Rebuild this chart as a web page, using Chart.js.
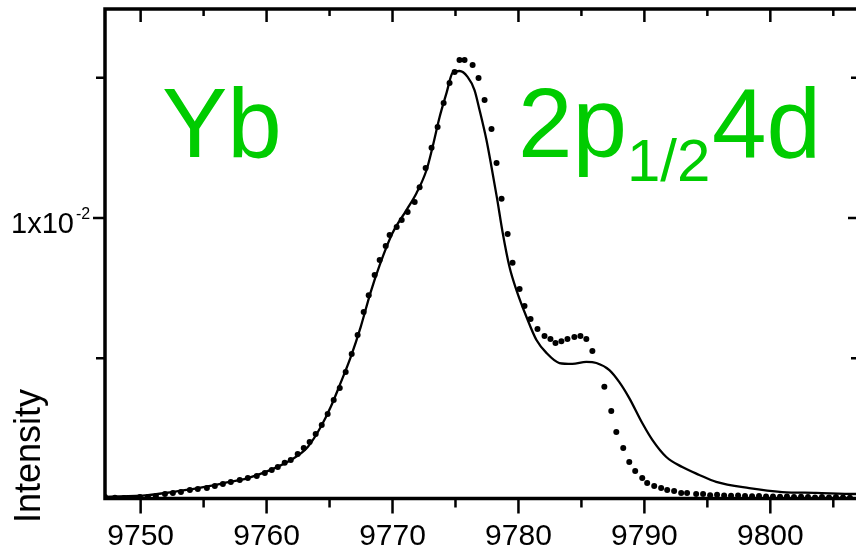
<!DOCTYPE html>
<html>
<head>
<meta charset="utf-8">
<script src="https://cdn.jsdelivr.net/npm/chart.js@4.4.1/dist/chart.umd.min.js"></script>
<style>
    html, body { margin: 0; padding: 0; background: #fff; overflow: hidden; }
    #wrap { width: 856px; height: 554px; overflow: hidden; position: relative; }
    canvas { display: block; }
</style>
</head>
<body>
<div id="wrap"><canvas id="spec" width="864" height="554"></canvas></div>
<script>
// intensities are given in units of 1e-2
const UNIT = 1e-2;

// calculated profile (solid line)
const fitX = [9747.15, 9750.58, 9752.5, 9754.54, 9756.5, 9758.51, 9760.33, 9761.92, 9763.27, 9764.30,
    9765.09, 9765.88, 9766.68, 9767.47, 9768.26, 9768.98, 9770.01, 9771.12, 9771.91, 9772.70,
    9773.18, 9773.74, 9774.29, 9774.77, 9775.32, 9775.96, 9776.51, 9776.91, 9777.46, 9777.86,
    9778.30, 9778.73, 9779.29, 9779.84, 9780.64, 9781.43, 9782.22, 9783.25, 9784.28, 9785.39,
    9786.19, 9787.22, 9788.01, 9788.80, 9789.83, 9790.63, 9791.74, 9793.01, 9794.36, 9795.70,
    9798.32, 9800.94, 9803.63, 9806.73, 9807.12];
const fitY = [0.006, 0.012, 0.023, 0.037, 0.054, 0.073, 0.102, 0.137, 0.184, 0.255,
    0.326, 0.412, 0.504, 0.611, 0.735, 0.832, 0.947, 1.029, 1.089, 1.171,
    1.253, 1.360, 1.446, 1.517, 1.524, 1.503, 1.456, 1.385, 1.278, 1.182,
    1.070, 0.952, 0.825, 0.743, 0.647, 0.565, 0.519, 0.483, 0.480, 0.487,
    0.483, 0.458, 0.415, 0.358, 0.269, 0.209, 0.148, 0.112, 0.084, 0.059,
    0.037, 0.023, 0.020, 0.016, 0.016];

// measured points (dots)
const expX = [9747.17, 9747.96, 9748.68, 9749.23, 9749.94, 9750.58, 9751.21, 9751.93, 9752.56, 9753.20,
    9753.91, 9754.54, 9755.26, 9755.89, 9756.53, 9757.16, 9757.87, 9758.51, 9759.22, 9759.86,
    9760.41, 9760.89, 9761.44, 9761.92, 9762.47, 9762.95, 9763.42, 9763.90, 9764.38, 9764.85,
    9765.33, 9765.81, 9766.28, 9766.76, 9767.23, 9767.71, 9768.11, 9768.58, 9768.98, 9769.46,
    9769.77, 9770.33, 9770.73, 9771.20, 9771.76, 9772.15, 9772.63, 9773.10, 9773.58, 9774.06,
    9774.53, 9774.93, 9775.32, 9775.72, 9776.36, 9776.83, 9777.31, 9777.86, 9778.26, 9778.66,
    9779.14, 9779.53, 9780.09, 9780.48, 9780.96, 9781.51, 9782.07, 9782.54, 9782.94, 9783.41,
    9783.89, 9784.44, 9784.92, 9785.39, 9785.87, 9786.82, 9787.37, 9787.77, 9788.32, 9788.80,
    9789.27, 9789.83, 9790.22, 9790.78, 9791.33, 9791.81, 9792.36, 9792.92, 9793.39, 9794.11,
    9794.66, 9795.22, 9795.77, 9796.33, 9796.88, 9797.44, 9797.99, 9798.55, 9799.10, 9799.66,
    9800.21, 9800.77, 9801.32, 9801.88, 9802.44, 9802.99, 9803.55, 9804.10, 9804.66, 9805.21,
    9805.77, 9806.32];
const expY = [0.005, 0.003, 0.002, 0.002, 0.005, 0.005, 0.009, 0.016, 0.020, 0.023,
    0.030, 0.034, 0.037, 0.045, 0.052, 0.059, 0.066, 0.073, 0.080, 0.091,
    0.102, 0.112, 0.127, 0.137, 0.159, 0.180, 0.201, 0.230, 0.262, 0.301,
    0.351, 0.394, 0.451, 0.515, 0.583, 0.665, 0.725, 0.797, 0.850, 0.900,
    0.939, 0.968, 0.993, 1.021, 1.057, 1.110, 1.178, 1.250, 1.324, 1.410,
    1.481, 1.520, 1.563, 1.563, 1.545, 1.499, 1.421, 1.317, 1.196, 1.069,
    0.943, 0.840, 0.747, 0.686, 0.640, 0.604, 0.579, 0.569, 0.554, 0.561,
    0.569, 0.576, 0.579, 0.569, 0.526, 0.398, 0.312, 0.237, 0.180, 0.130,
    0.098, 0.073, 0.055, 0.045, 0.037, 0.030, 0.027, 0.020, 0.020, 0.016,
    0.016, 0.012, 0.013, 0.011, 0.010, 0.011, 0.009, 0.008, 0.009, 0.007,
    0.007, 0.006, 0.007, 0.005, 0.006, 0.005, 0.004, 0.005, 0.004, 0.005,
    0.004, 0.003];

const X_MIN = 9747.17, X_MAX = 9807.12;
const Y_MAX = 1.745;
const xMajor = [9750, 9760, 9770, 9780, 9790, 9800];
const xMinor = [9755, 9765, 9775, 9785, 9795, 9805];
const yMajor = [1.0];
const yMinor = [0.5, 1.5];

const GREEN = '#00cc00';
const FONT = '"Liberation Sans", Arial, Helvetica, sans-serif';

const framePlugin = {
    id: 'frame',
    afterDatasetsDraw(chart) {
        const { ctx, chartArea: a, scales: { x, y } } = chart;
        ctx.save();
        ctx.strokeStyle = '#000';
        ctx.lineCap = 'butt';

        // tick marks: outward on bottom/left, inward on top/right
        ctx.lineWidth = 2.5;
        ctx.beginPath();
        xMajor.forEach(v => {
            const p = x.getPixelForValue(v);
            ctx.moveTo(p, a.bottom); ctx.lineTo(p, a.bottom + 15);
            ctx.moveTo(p, a.top); ctx.lineTo(p, a.top + 13);
        });
        xMinor.forEach(v => {
            const p = x.getPixelForValue(v);
            ctx.moveTo(p, a.bottom); ctx.lineTo(p, a.bottom + 9);
            ctx.moveTo(p, a.top); ctx.lineTo(p, a.top + 7);
        });
        yMajor.forEach(v => {
            const p = y.getPixelForValue(v * UNIT);
            ctx.moveTo(a.left - 12, p); ctx.lineTo(a.left, p);
            ctx.moveTo(a.right - 12, p); ctx.lineTo(a.right, p);
        });
        yMinor.forEach(v => {
            const p = y.getPixelForValue(v * UNIT);
            ctx.moveTo(a.left - 9, p); ctx.lineTo(a.left, p);
            ctx.moveTo(a.right - 9, p); ctx.lineTo(a.right, p);
        });
        ctx.stroke();

        ctx.lineWidth = 3.5;
        ctx.strokeRect(a.left, a.top, a.right - a.left, a.bottom - a.top);

        // y tick label 1x10^-2
        ctx.fillStyle = '#000';
        ctx.textAlign = 'left';
        ctx.textBaseline = 'alphabetic';
        const p1 = y.getPixelForValue(yMajor[0] * UNIT);
        ctx.font = '29px ' + FONT;
        ctx.fillText('1x10', 11, p1 + 15);
        ctx.font = '16px ' + FONT;
        ctx.fillText('-2', 76, p1 + 1);

        // axis title
        ctx.save();
        ctx.translate(40, 456);
        ctx.rotate(-Math.PI / 2);
        ctx.textAlign = 'center';
        ctx.font = '36px ' + FONT;
        ctx.fillText('Intensity', 0, 0);
        ctx.restore();

        // element / transition annotation
        ctx.fillStyle = GREEN;
        ctx.textAlign = 'left';
        ctx.font = '98px ' + FONT;
        ctx.fillText('Yb', 162, 157);
        ctx.fillText('2p', 518, 157);
        ctx.fillText('4d', 712, 157);
        ctx.font = '60px ' + FONT;
        ctx.fillText('1/2', 627, 181);

        ctx.restore();
    }
};

new Chart(document.getElementById('spec'), {
    type: 'scatter',
    data: {
        datasets: [
            {
                type: 'line',
                data: fitX.map((v, i) => ({ x: v, y: fitY[i] * UNIT })),
                borderColor: '#000',
                borderWidth: 2.3,
                pointRadius: 0,
                cubicInterpolationMode: 'monotone',
                fill: false
            },
            {
                data: expX.map((v, i) => ({ x: v, y: expY[i] * UNIT })),
                pointRadius: 3,
                pointBackgroundColor: '#000',
                pointBorderWidth: 0,
                showLine: false
            }
        ]
    },
    options: {
        responsive: false,
        animation: false,
        layout: { padding: { top: 9, right: 3, left: 0, bottom: 0 } },
        plugins: { legend: { display: false }, tooltip: { enabled: false } },
        scales: {
            x: {
                type: 'linear',
                min: X_MIN,
                max: X_MAX,
                afterBuildTicks: s => { s.ticks = xMajor.map(v => ({ value: v })); },
                afterFit: s => { s.height = 55.5; },
                grid: { display: false, drawTicks: false },
                border: { display: false },
                ticks: {
                    autoSkip: false,
                    maxRotation: 0,
                    padding: 20,
                    color: '#000',
                    font: { family: FONT, size: 30 },
                    callback: v => String(v)
                }
            },
            y: {
                min: 0,
                max: Y_MAX * UNIT,
                afterFit: s => { s.width = 105; },
                grid: { display: false, drawTicks: false },
                border: { display: false },
                ticks: { display: false }
            }
        }
    },
    plugins: [framePlugin]
});
</script>
</body>
</html>
